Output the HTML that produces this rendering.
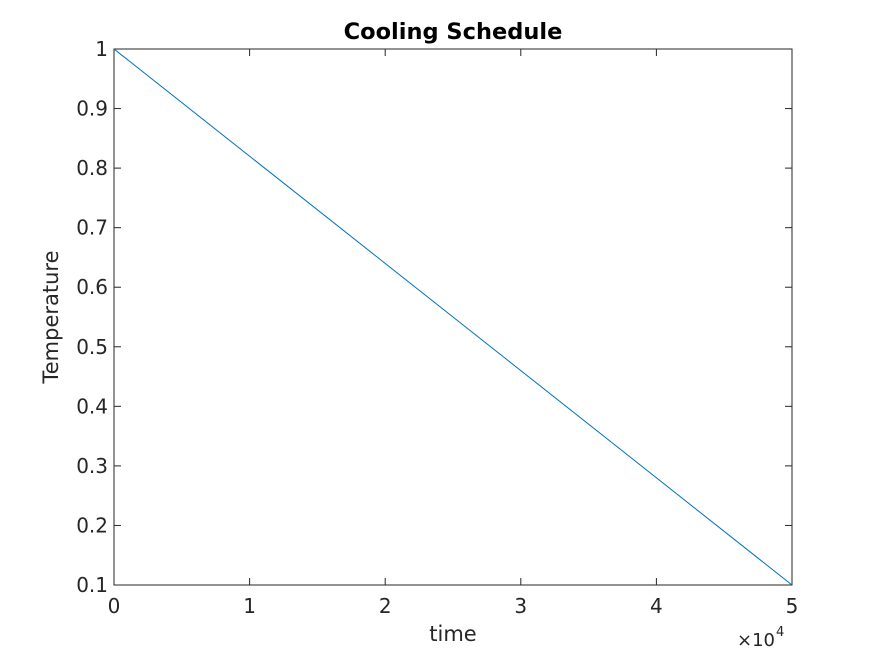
<!DOCTYPE html>
<html><head><meta charset="utf-8"><style>
html,body{margin:0;padding:0;background:#fff;}
svg text{font-family:"DejaVu Sans","Liberation Sans",sans-serif;fill:#262626;}
</style></head><body>
<svg id="chart" width="875" height="656" viewBox="0 0 875 656" xmlns="http://www.w3.org/2000/svg">
<rect x="0" y="0" width="875" height="656" fill="#fff"/>
<g id="g"></g>
</svg>
<script>
const xTicks=[0,1,2,3,4,5];
const yTicks=[0.1,0.2,0.3,0.4,0.5,0.6,0.7,0.8,0.9,1];
const yTickLabels=["0.1","0.2","0.3","0.4","0.5","0.6","0.7","0.8","0.9","1"];
const timeVals=[0,50000];
const tempVals=[1,0.1];
const L=114,R=792,T=49,B=585;
const xs=v=>L+(v-0)/(50000)*(R-L);
const ys=v=>B-(v-0.1)/(0.9)*(B-T);
const g=document.getElementById('g');
const NS='http://www.w3.org/2000/svg';
function mk(t,a,txt){const e=document.createElementNS(NS,t);for(const k in a)e.setAttribute(k,a[k]);if(txt!==undefined)e.textContent=txt;g.appendChild(e);return e;}
let e=mk('rect',{x:L,y:T,width:R-L,height:B-T,fill:'none',stroke:'#262626','stroke-width':1});


xTicks.forEach(t=>{const x=xs(t*10000);
e=mk('line',{x1:x,x2:x,y1:B,y2:B-7,stroke:'#262626'});


e=mk('line',{x1:x,x2:x,y1:T,y2:T+7,stroke:'#262626'});


e=mk('text',{x:x,y:B+28,'text-anchor':'middle','font-size':20},String(t));


});
yTicks.forEach((t,i)=>{const y=ys(t);
e=mk('line',{x1:L,x2:L+7,y1:y,y2:y,stroke:'#262626'});


e=mk('line',{x1:R,x2:R-7,y1:y,y2:y,stroke:'#262626'});


e=mk('text',{x:L-6,y:y+7,'text-anchor':'end','font-size':20},yTickLabels[i]);


});
const pts=timeVals.map((t,i)=>xs(t)+','+ys(tempVals[i])).join(' ');
e=mk('polyline',{points:pts,fill:'none',stroke:'#0072bd','stroke-width':1});


e=mk('text',{x:453,y:39,'text-anchor':'middle','font-size':22.5,'font-weight':'bold'},'Cooling Schedule');


e.style.fill='#000';
e=mk('text',{x:453,y:641,'text-anchor':'middle','font-size':21},'time');


e=mk('text',{x:58,y:317,'text-anchor':'middle','font-size':21,transform:'rotate(-90 58 317)'},'Temperature');


e=mk('text',{x:737,y:646,'font-size':18},'×10');


e=mk('text',{x:776,y:636,'font-size':13},'4');


</script>
</body></html>
